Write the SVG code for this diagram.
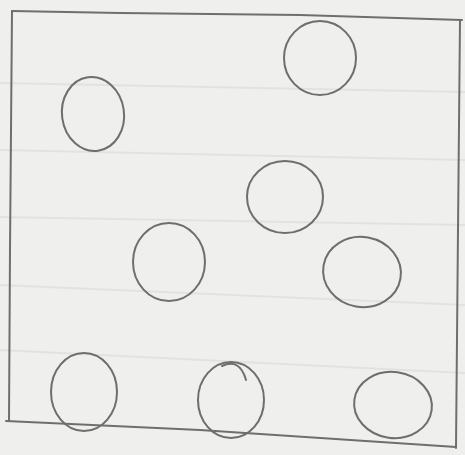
<svg xmlns="http://www.w3.org/2000/svg" width="465" height="455" viewBox="0 0 465 455">
  <style>
    .paper { fill: #efefed; }
    .rule { stroke: #e2e2e0; stroke-width: 2; fill: none; }
    .pencil { fill: none; stroke: #6e6e6e; stroke-width: 2; stroke-linecap: round; stroke-linejoin: round; }
  </style>
  <rect class="paper" x="0" y="0" width="465" height="455"/>
  <g id="paper-rules">
    <line class="rule" x1="0" y1="83" x2="465" y2="92"/>
    <line class="rule" x1="0" y1="150" x2="465" y2="160"/>
    <line class="rule" x1="0" y1="217" x2="465" y2="225"/>
    <line class="rule" x1="0" y1="285" x2="465" y2="305"/>
    <line class="rule" x1="0" y1="350" x2="465" y2="373"/>
  </g>
  <g id="frame">
    <path class="pencil" d="M12,11 L120,13 L300,15 L462,20"/>
    <path class="pencil" d="M12,11 L10,250 L9,421"/>
    <path class="pencil" d="M6,421 L200,430 L456,447"/>
    <path class="pencil" d="M460,20 L458,230 L456,448"/>
  </g>
  <g id="circle-1"><ellipse class="pencil" cx="320" cy="58" rx="36" ry="37"/></g>
  <g id="circle-2"><ellipse class="pencil" cx="93" cy="114" rx="31" ry="37" transform="rotate(-8 93 114)"/></g>
  <g id="circle-3"><ellipse class="pencil" cx="285" cy="197" rx="38" ry="36"/></g>
  <g id="circle-4"><ellipse class="pencil" cx="169" cy="262" rx="36" ry="39"/></g>
  <g id="circle-5"><ellipse class="pencil" cx="362" cy="272" rx="39" ry="35" transform="rotate(10 362 272)"/></g>
  <g id="circle-6"><ellipse class="pencil" cx="84" cy="392" rx="33" ry="39"/></g>
  <g id="circle-7"><ellipse class="pencil" cx="231" cy="400" rx="33" ry="38"/><path class="pencil" d="M222,366 Q240,358 246,380" stroke-width="1.5"/></g>
  <g id="circle-8"><ellipse class="pencil" cx="393" cy="405" rx="39" ry="33" transform="rotate(8 393 405)"/></g>
</svg>
